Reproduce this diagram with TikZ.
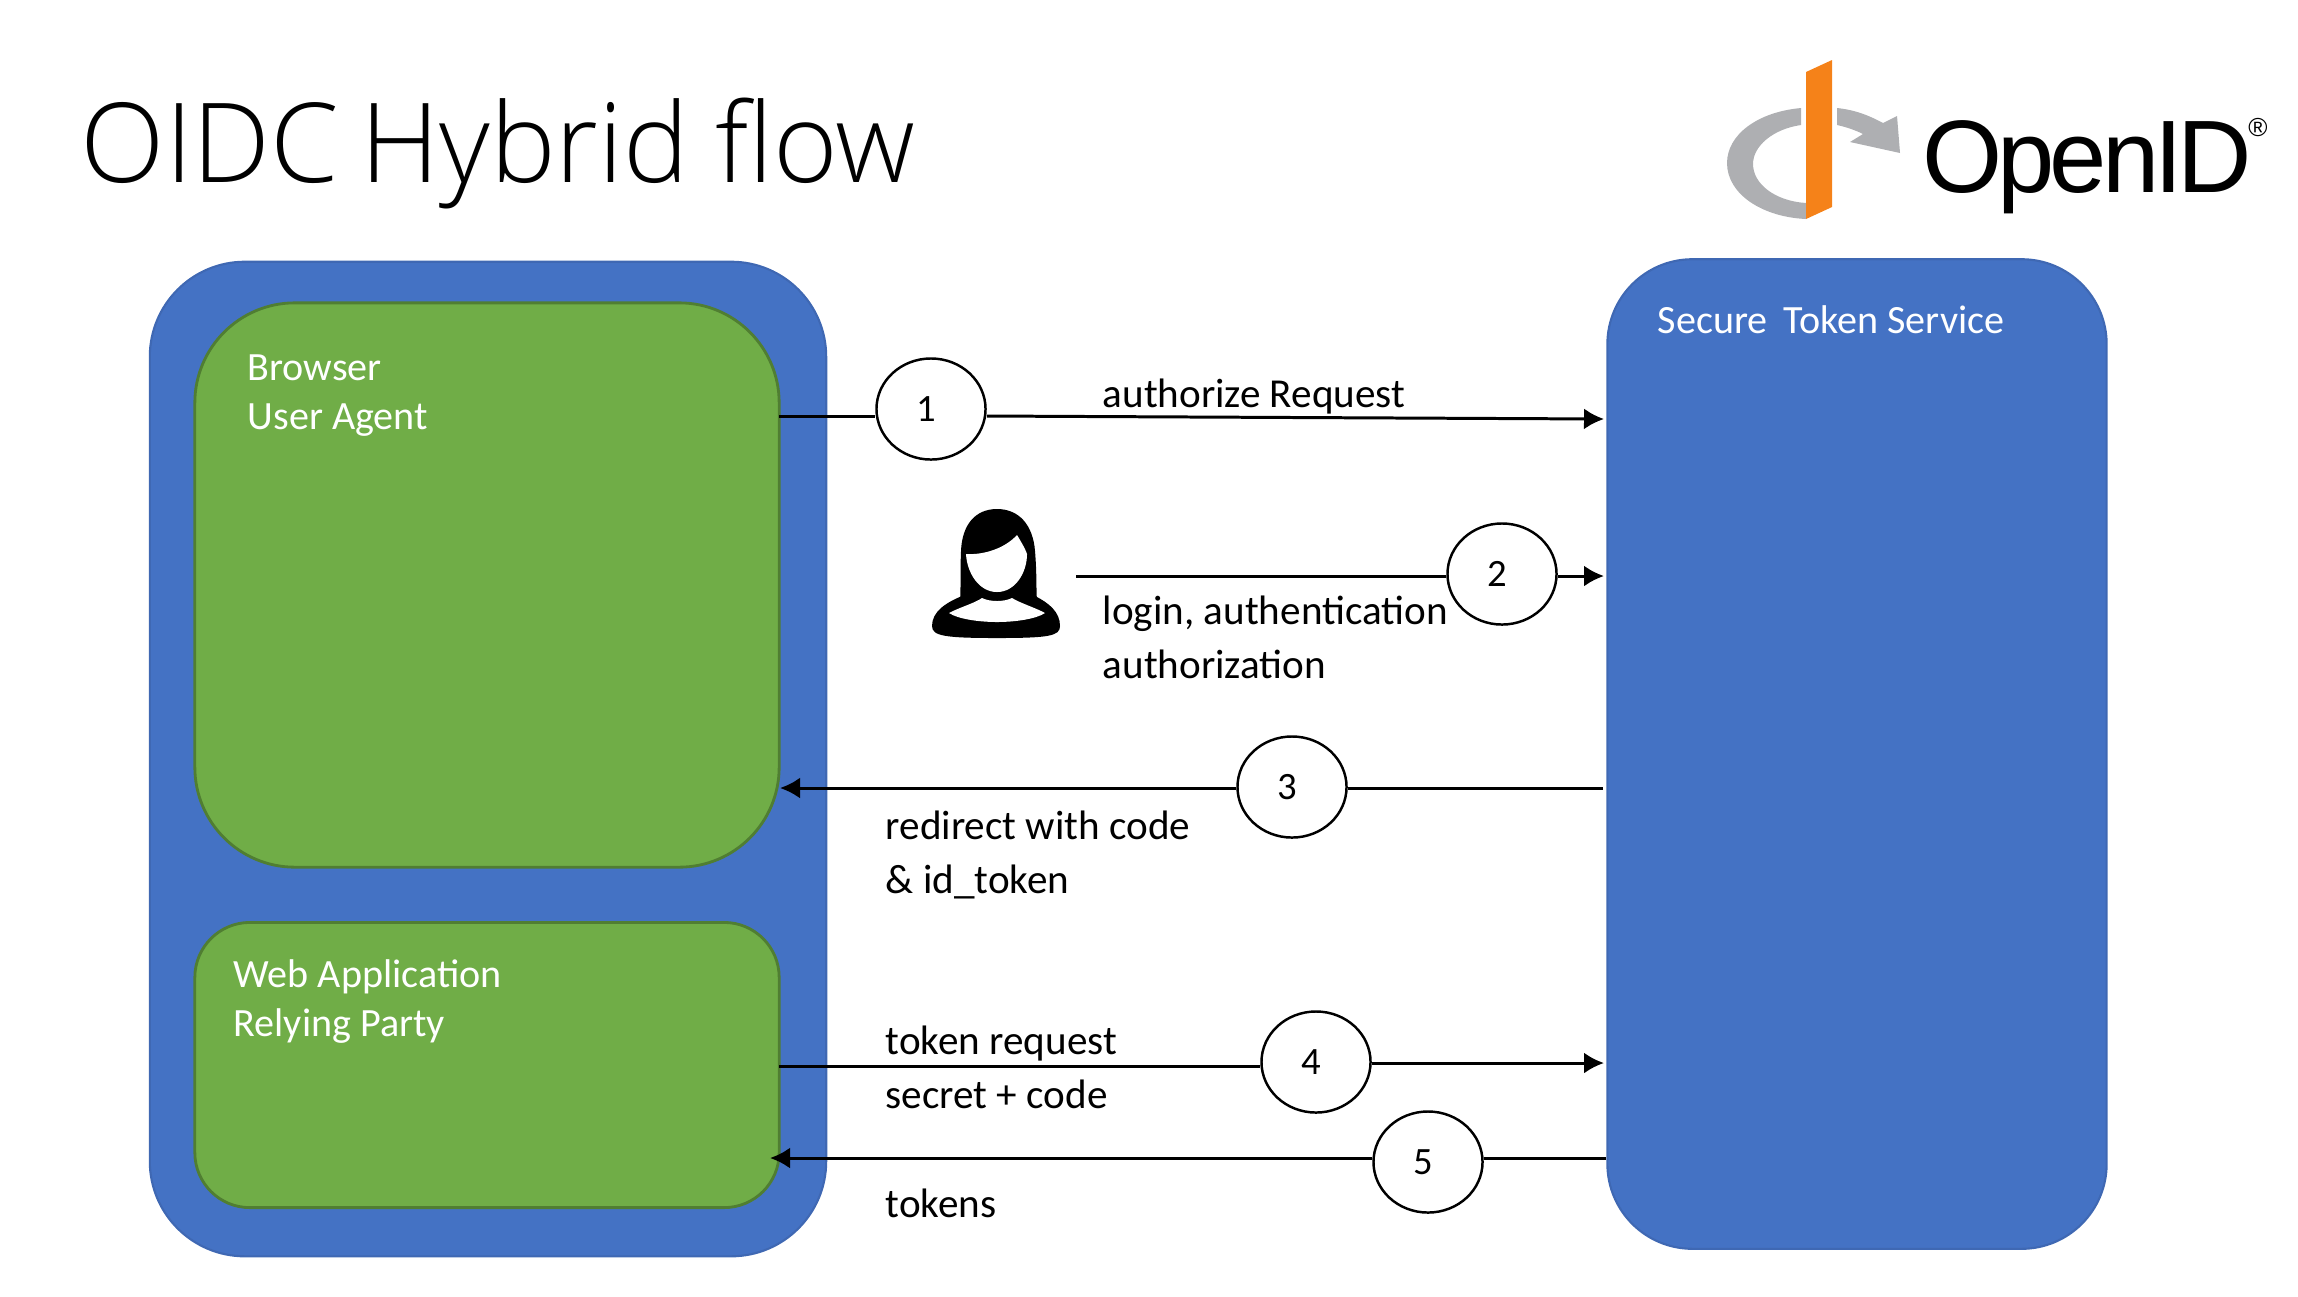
\documentclass[tikz,border=0pt]{standalone}
\usepackage{fontspec}
\setmainfont{Carlito}
\newfontfamily\titlefont{Open Sans Light}
\newfontfamily\logofont[LetterSpace=-5]{Liberation Sans}
\usetikzlibrary{arrows.meta,shapes.geometric}
\definecolor{boxblue}{HTML}{4472C4}
\definecolor{boxgreen}{HTML}{70AD47}
\definecolor{edgegreen}{HTML}{507E32}
\definecolor{edgeblue}{HTML}{3F68B3}
\definecolor{logogray}{HTML}{AEAFB2}
\definecolor{logoorange}{HTML}{F58219}
\tikzset{
	bluebox/.style={draw=edgeblue,fill=boxblue,line width=0.6pt,rectangle},
	greenbox/.style={draw=edgegreen,fill=boxgreen,line width=0.8pt,rectangle},
	stepnum/.style={draw=black,fill=white,ellipse,line width=0.7pt,minimum width=1.09cm,minimum height=1.01cm,inner sep=0pt,font=\fontsize{11}{13}\selectfont,execute at begin node=\kern-0.09cm},
	boxtext/.style={text=white,anchor=base west,inner sep=0pt,align=left,font=\fontsize{11.4}{13.9}\selectfont},
	flowtext/.style={text=black,anchor=base west,inner sep=0pt,align=left,font=\fontsize{11.7}{15.3}\selectfont},
	flow/.style={line width=0.85pt,draw=black},
	flowtip/.style={flow,-{Latex[length=0.2cm,width=0.21cm]}}
}
\begin{document}
\begin{tikzpicture}[x=0.01cm,y=-0.01cm]
	\useasboundingbox (0,0) rectangle (2298,1296);
	% title and logo
	\node[anchor=base west,inner sep=0pt,font=\fontsize{31.4}{36}\titlefont] (title) at (80,182) {OIDC\kern-0.08cm\ Hybrid\kern-0.03cm\ flow};
	\fill[logogray] (1801,108) .. controls (1757,112) and (1727,135) .. (1727,163) .. controls (1727,194) and (1762,217) .. (1806,219) -- (1806,203) .. controls (1775,201) and (1753,184) .. (1753,164) .. controls (1753,146) and (1773,129) .. (1801,125) -- cycle;
	\fill[logogray] (1837,108) .. controls (1856,110) and (1870,116) .. (1883,123) -- (1897,116) -- (1900,153) -- (1850,142) -- (1863,134) .. controls (1855,130) and (1846,127) .. (1837,125) -- cycle;
	\fill[logoorange] (1806,72) -- (1832,60) -- (1832,207) -- (1806,219) -- cycle;
	\node[anchor=base west,inner sep=0pt,font=\fontsize{29.3}{34}\logofont] (logo) at (1922,192) {OpenID};
	\node[inner sep=0pt,font=\fontsize{7.4}{8}\selectfont] (reg) at (2258,128) {\fontspec{Liberation Sans}®};
	% boxes
	\node[bluebox,minimum width=6.76cm,minimum height=9.94cm,rounded corners=0.95cm] (client) at (488,759) {};
	\node[bluebox,minimum width=4.99cm,minimum height=9.89cm,rounded corners=0.85cm] (sts) at (1857,754) {};
	\node[greenbox,minimum width=5.84cm,minimum height=5.64cm,rounded corners=1cm] (browser) at (487,585) {};
	\node[greenbox,minimum width=5.84cm,minimum height=2.85cm,rounded corners=0.55cm] (webapp) at (487,1065) {};
	\node[boxtext] (browsertext) at (247,429) {Browser\\User Agent};
	\node[boxtext] (webapptext) at (233,1036) {Web Application\\Relying Party};
	\node[boxtext] (ststext) at (1657,333) {Secure\, Token Service};
	% person
	\fill[black] (997,509) .. controls (975,509) and (962,525) .. (961,551) .. controls (960,575) and (961,590) .. (960,600) -- (1037,600) .. controls (1036,590) and (1037,575) .. (1035,551) .. controls (1033,525) and (1019,509) .. (997,509) -- cycle;
	\fill[black] (962,596) .. controls (945,603) and (932,612) .. (932,626) .. controls (932,636) and (945,638) .. (997,638) .. controls (1049,638) and (1060,636) .. (1060,626) .. controls (1060,612) and (1049,603) .. (1035,596) -- cycle;
	\fill[white] (966,554) .. controls (985,555) and (1005,548) .. (1017,535) .. controls (1020,540) and (1025,548) .. (1027,554) .. controls (1027,573) and (1015,592) .. (997,592) .. controls (979,592) and (967,573) .. (966,554) -- cycle;
	\fill[white] (949,613) .. controls (958,608) and (975,603) .. (982,598) .. controls (990,602) and (1004,602) .. (1012,598) .. controls (1020,603) and (1036,608) .. (1045,613) .. controls (1036,619) and (1015,622) .. (997,622) .. controls (979,622) and (958,619) .. (949,613) -- cycle;
	% step numbers
	\node[stepnum] (s1) at (931,409) {1};
	\node[stepnum] (s2) at (1502,574) {2};
	\node[stepnum] (s3) at (1292,787) {3};
	\node[stepnum] (s4) at (1316,1062) {4};
	\node[stepnum] (s5) at (1428,1162) {5};
	% line ends
	\coordinate (b1) at (779,416);
	\coordinate (t1) at (1604,419);
	\coordinate (u2) at (1076,576);
	\coordinate (t2) at (1604,576);
	\coordinate (t3) at (1603,788);
	\coordinate (b3) at (780,788);
	\coordinate (w4) at (779,1066);
	\coordinate (t4) at (1604,1063);
	\coordinate (t5) at (1606,1158);
	\coordinate (w5) at (770,1158);
	\draw[flow] (b1) -- (b1 -| s1.west);
	\draw[flowtip] (s1.east |- b1) -- (t1);
	\draw[flow] (u2) -- (u2 -| s2.west);
	\draw[flowtip] (s2.east |- t2) -- (t2);
	\draw[flow] (t3) -- (t3 -| s3.east);
	\draw[flowtip] (s3.west |- b3) -- (b3);
	\draw[flow] (w4) -- (w4 -| s4.west);
	\draw[flowtip] (s4.east |- t4) -- (t4);
	\draw[flow] (t5) -- (t5 -| s5.east);
	\draw[flowtip] (s5.west |- w5) -- (w5);
	% labels
	\node[flowtext] (l1) at (1102,407) {authorize Request};
	\node[flowtext] (l2) at (1102,678) {login, authentication\\authorization};
	\node[flowtext] (l3) at (885,893) {redirect with code\\\& id\_token};
	\node[flowtext] (l4) at (885,1108) {token request\\secret + code};
	\node[flowtext] (l5) at (885,1217) {tokens};
\end{tikzpicture}
\end{document}
